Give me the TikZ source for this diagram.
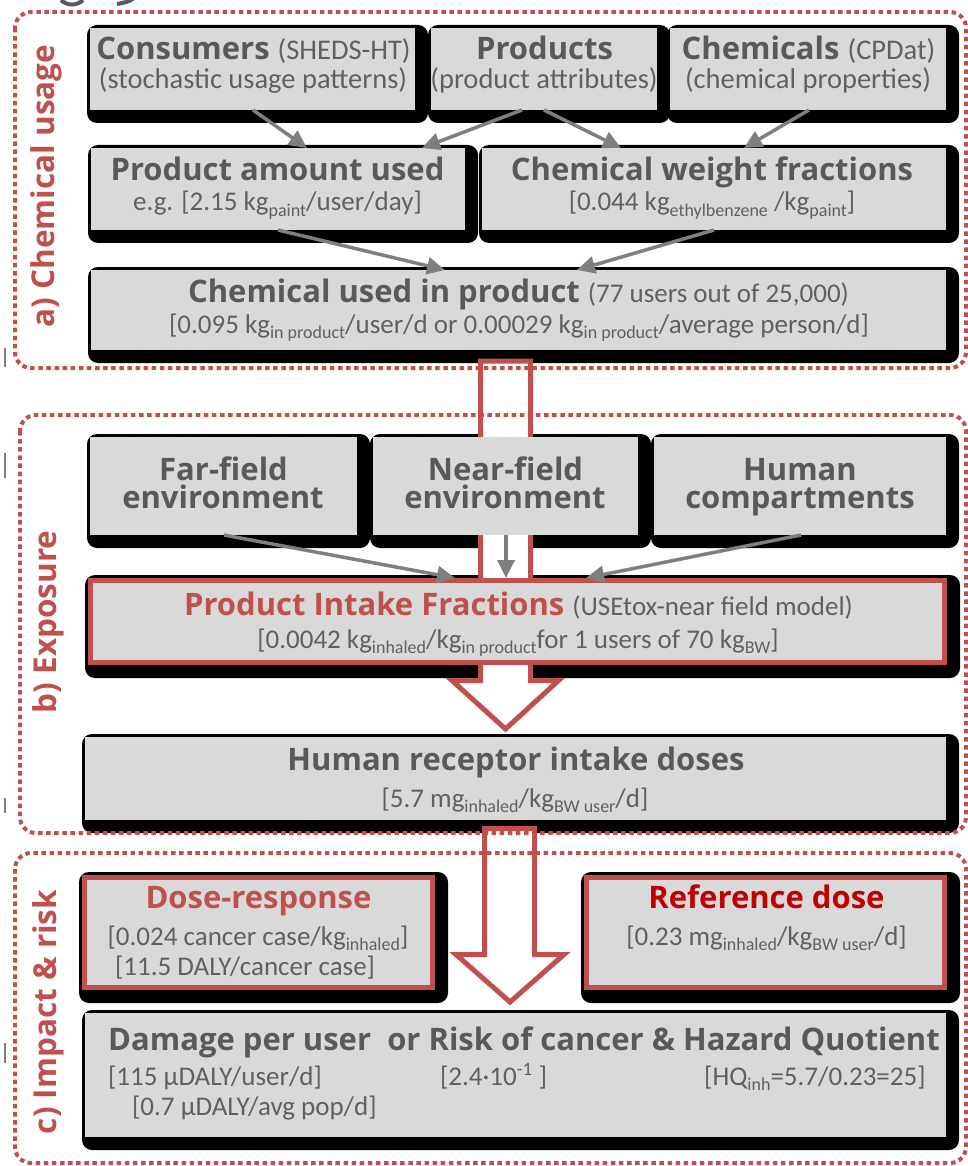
\documentclass[tikz,border=0pt]{standalone}
\usepackage{fontspec}
\setmainfont{Carlito}
\newfontfamily\hdfont{Open Sans}
\usepackage{graphicx}
\usetikzlibrary{arrows.meta}
\definecolor{boxgray}{HTML}{D9D9D9}
\definecolor{headgray}{HTML}{595959}
\definecolor{txtgray}{HTML}{606060}
\definecolor{redc}{HTML}{C0504D}
\definecolor{darkred}{HTML}{C00000}
\definecolor{arrgray}{HTML}{7F7F7F}
\newcommand\hbf{\hdfont\bfseries\fontsize{31}{32}\selectfont\color{headgray}}
\newcommand\hrf{\hdfont\bfseries\fontsize{31}{32}\selectfont\color{redc}}
\newcommand\hdrf{\hdfont\bfseries\fontsize{31}{32}\selectfont\color{darkred}}
\newcommand\rgf{\normalfont\fontsize{27}{28}\selectfont\color{txtgray}}
\newcommand\rgg{\normalfont\fontsize{28.5}{29}\selectfont\color{txtgray}}
\newcommand\lo[1]{\raisebox{-0.22em}{\fontsize{18}{18}\selectfont #1}}
\newcommand\secf{\hdfont\bfseries\fontsize{31.5}{32}\selectfont\color{redc}}
\pgfdeclarelayer{shad}
\pgfdeclarelayer{barrow}
\pgfsetlayers{shad,barrow,main}
\begin{document}
\begin{tikzpicture}[x=1pt,y=-1pt,
  box/.style={fill=boxgray,draw=none,inner sep=0,outer sep=0},
  redbox/.style={fill=boxgray,draw=redc,line width=5pt,inner sep=0,outer sep=2.5pt},
  txt/.style={inner sep=0,anchor=base},
  txtl/.style={inner sep=0,anchor=base west},
  garrow/.style={draw=arrgray,line width=3.5pt,-{Triangle[length=18pt,width=17pt]}},
  bigarrow/.style={fill=white,draw=redc,line width=5pt,line join=miter},
  frame/.style={draw=redc,line width=4pt,dash pattern=on 4.5pt off 3.6pt,rounded corners=16pt},
  shadowbox/.style={fill=black,rounded corners=10pt}]
\useasboundingbox (0,0) rectangle (968,1166);

% ---------- boxes ----------
\node[box,minimum width=325,minimum height=82] (cons) at (252.5,69) {};
\node[box,minimum width=226,minimum height=82] (prod) at (544,69) {};
\node[box,minimum width=276,minimum height=82] (chems) at (808,69) {};
\node[box,minimum width=374,minimum height=82] (amount) at (278,189) {};
\node[box,minimum width=464,minimum height=82] (wfrac) at (714,189) {};
\node[box,minimum width=855,minimum height=80] (chemused) at (518.5,310) {};
\node[box,minimum width=267,minimum height=98] (far) at (223.5,486) {};
\node[box,minimum width=265,minimum height=98] (near) at (505.5,486) {};
\node[box,minimum width=292,minimum height=98] (human) at (800,486) {};
\node[redbox,minimum width=854,minimum height=82] (pif) at (517.5,621.5) {};
\node[box,minimum width=861,minimum height=83] (recep) at (515.5,778.5) {};
\node[redbox,minimum width=348,minimum height=110] (dose) at (258.5,932.5) {};
\node[redbox,minimum width=358,minimum height=110] (refd) at (765.5,932.5) {};
\node[box,minimum width=861,minimum height=124] (damage) at (515.5,1075) {};

% ---------- shadows ----------
\begin{pgfonlayer}{shad}
\foreach \n in {cons,prod,chems,amount,wfrac,chemused,far,near,human,pif,recep,dose,refd,damage}
  \fill[shadowbox] ([shift={(-3pt,3pt)}]\n.north west) rectangle ([shift={(13pt,-13pt)}]\n.south east);
\end{pgfonlayer}

% ---------- big hollow arrows ----------
\begin{pgfonlayer}{barrow}
\coordinate (b1) at (505.5,361);
\coordinate (b2) at (509.5,828.5);
\draw[bigarrow] ([xshift=-25pt]b1) -- ([xshift=25pt]b1) -- ([xshift=25pt]b1 |- 0,680.5)
  -- ([xshift=53pt]b1 |- 0,680.5) -- (505.5,729) -- ([xshift=-53.5pt]b1 |- 0,680.5)
  -- ([xshift=-25pt]b1 |- 0,680.5) -- cycle;
\draw[bigarrow] ([xshift=-25pt]b2) -- ([xshift=25pt]b2) -- ([xshift=25pt]b2 |- 0,954.5)
  -- ([xshift=54.5pt]b2 |- 0,954.5) -- (510,1002) -- ([xshift=-53.5pt]b2 |- 0,954.5)
  -- ([xshift=-25pt]b2 |- 0,954.5) -- cycle;
\end{pgfonlayer}

% ---------- section frames ----------
\draw[frame] (15,12) rectangle (966,368);
\draw[frame] (20,415) rectangle (966,833);
\draw[frame] (15,853) rectangle (966,1163);

% ---------- section labels ----------
\node[rotate=90,inner sep=0] (la) at (46,186) {\secf a) Chemical usage};
\node[rotate=90,inner sep=0] (lb) at (48,622) {\secf b) Exposure};
\node[rotate=90,inner sep=0] (lc) at (48,1012) {\secf c) Impact \& risk};

% ---------- texts ----------
\node[txt] (cons1) at (253.5,60) {\hbf Consumers \rgg(SHEDS-HT)};
\node[txt] (cons2) at (253,89) {\rgg (stochastic usage patterns)};
\node[txt] (prod1) at (544.5,60) {\hbf Products};
\node[txt] (prod2) at (544,89) {\rgg (product attributes)};
\node[txt] (chem1) at (808.5,60) {\hbf Chemicals \rgg(CPDat)};
\node[txt] (chem2) at (808,89) {\rgg (chemical properties)};
\node[txt] (amt1) at (277.5,181) {\hbf Product amount used};
\node[txt] (amt2) at (277.5,211) {\rgf e.g. [2.15 kg\lo{paint}/user/day]};
\node[txt] (wf1) at (712,181) {\hbf Chemical weight fractions};
\node[txt] (wf2) at (712,211) {\rgf [0.044 kg\lo{ethylbenzene} /kg\lo{paint}]};
\node[txt] (cu1) at (518.5,302) {\hbf Chemical used in product \rgf(77 users out of 25,000)};
\node[txt] (cu2) at (519,333) {\rgf [0.095 kg\lo{in product}/user/d or 0.00029 kg\lo{in product}/average person/d]};
\node[txt] (far1) at (223.5,480) {\hbf Far-field};
\node[txt] (far2) at (223,508) {\hbf environment};
\node[txt] (near1) at (505.5,480) {\hbf Near-field};
\node[txt] (near2) at (505,508) {\hbf environment};
\node[txt] (hum1) at (800,480) {\hbf Human};
\node[txt] (hum2) at (800,508) {\hbf compartments};
\node[txt] (pif1) at (518.5,615) {\hrf Product Intake Fractions \rgf(USEtox-near field model)};
\node[txt] (pif2) at (518,648) {\rgf [0.0042 kg\lo{inhaled}/kg\lo{in product}for 1 users of 70 kg\lo{BW}]};
\node[txt] (rec1) at (516,770) {\hbf Human receptor intake doses};
\node[txt] (rec2) at (515,807) {\rgf [5.7 mg\lo{inhaled}/kg\lo{BW user}/d]};
\node[txt] (dr1) at (258.5,908) {\hrf Dose-response};
\node[txt] (dr2) at (258,945) {\rgf [0.024 cancer case/kg\lo{inhaled}]};
\node[txtl] (dr3) at (115,975) {\rgf [11.5 DALY/cancer case]};
\node[txt] (rd1) at (766.5,908) {\hdrf Reference dose};
\node[txt] (rd2) at (766.5,945) {\rgf [0.23 mg\lo{inhaled}/kg\lo{BW user}/d]};
\node[txtl] (dm1) at (108,1050) {\hbf Damage per user\ \ or Risk of cancer \& Hazard Quotient};
\node[txtl] (dm2) at (108,1085) {\rgf [115 µDALY/user/d]};
\node[txtl] (dm3) at (440,1085) {\rgf [2.4·10\textsuperscript{-1} ]};
\node[txtl] (dm4) at (704,1085) {\rgf [HQ\lo{inh}=5.7/0.23=25]};
\node[txtl] (dm5) at (132,1115) {\rgf [0.7 µDALY/avg pop/d]};

% ---------- small gray arrows ----------
\draw[garrow] ([xshift=0.5pt]cons.south) -- ([xshift=29pt]amount.north);
\draw[garrow] ([xshift=-22pt]prod.south) -- ([xshift=144pt]amount.north);
\draw[garrow] ([xshift=0pt]prod.south) -- ([xshift=-93pt]wfrac.north);
\draw[garrow] ([xshift=1pt]chems.south) -- ([xshift=30pt]wfrac.north);
\draw[garrow] ([xshift=0pt]amount.south) -- ([xshift=-73.5pt]chemused.north);
\draw[garrow] ([xshift=0pt]wfrac.south) -- ([xshift=58.5pt]chemused.north);
\draw[garrow] ([xshift=0.5pt]far.south) -- ([xshift=-62.5pt]pif.north);
\draw[garrow] ([xshift=0.5pt]near.south) -- ([xshift=-11.5pt]pif.north);
\draw[garrow] ([xshift=1pt]human.south) -- ([xshift=68.5pt]pif.north);

% ---------- stray marks at the edges ----------
\draw[line width=4pt,color=headgray] (61,0) .. controls (67,6) and (77,6) .. (83,0);
\draw[line width=4pt,color=headgray] (117,4) .. controls (124,3) and (130,1) .. (133,-1);
\foreach \ya/\yb in {348/367,453/478,798/813,1043/1063}
  \draw[line width=2.5pt,color=arrgray] (5,\ya) -- (5,\yb);
\end{tikzpicture}
\end{document}
